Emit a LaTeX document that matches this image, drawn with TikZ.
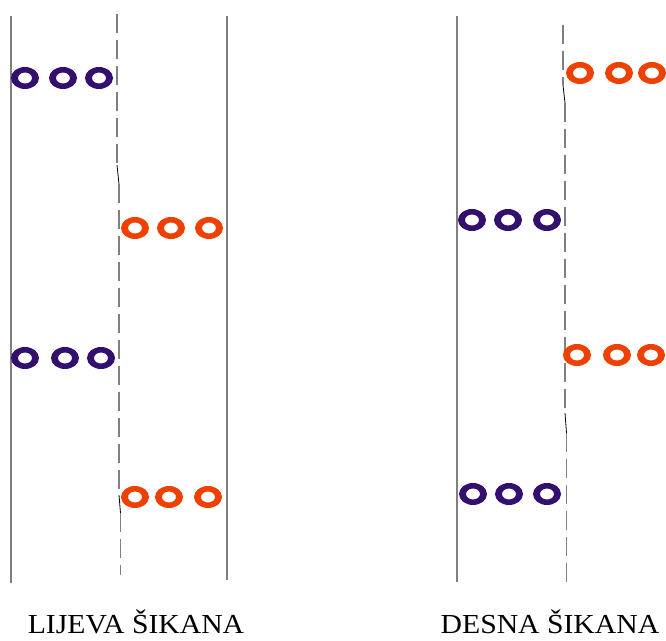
\documentclass[tikz,border=0pt]{standalone}
\usepackage{fontspec}
\setmainfont{Liberation Serif}
\newfontfamily\captionfont[FakeStretch=1.08]{Liberation Serif}
\definecolor{Purple}{RGB}{51,16,110}
\definecolor{Orange}{RGB}{238,64,0}
\definecolor{LineGray}{RGB}{128,128,128}
\tikzset{
	edgeline/.style={LineGray, line width=1.5pt},
	midline/.style={LineGray, line width=1.5pt, dash pattern=on 19pt off 7pt},
	kink/.style={black, line width=0.8pt},
	ring/.style={even odd rule},
	caption/.style={inner sep=0pt, anchor=base, text depth=0pt, font=\captionfont\fontsize{27.5}{30}\selectfont},
}
\newcommand{\ringat}[3]{\fill[ring,#1] (#2,#3) ellipse (14pt and 11pt) (#2,#3) ellipse (7pt and 5.5pt);}
\begin{document}
\begin{tikzpicture}[x=1pt,y=-1pt]
\useasboundingbox (0,0) rectangle (666,640);

	% left chicane
	\draw[edgeline] (11,16)--(11,583);
	\draw[edgeline] (227,16)--(227,580);

	\draw[midline] (117,14)--(117,165);
	\draw[kink] (117,165)--(119,184);
	\draw[midline] (119,184)--(119,495);
	\draw[kink] (119,495)--(120.5,513);
	\draw[midline] (120.5,513)--(120.5,575);

	\foreach \x in {25,63,99} \ringat{Purple}{\x}{78};   % first left
	\foreach \x in {135,171,209} \ringat{Orange}{\x}{228}; % first right
	\foreach \x in {25,65,101} \ringat{Purple}{\x}{358};  % second left
	\foreach \x in {135,169,208} \ringat{Orange}{\x}{497}; % second right

\node[caption] (lijeva) at (136,633) {LIJEVA ŠIKANA};

	% right chicane
	\draw[edgeline] (457,16)--(457,582);

	\draw[midline] (563,25)--(563,85);
	\draw[kink] (563,85)--(565,103);
	\draw[midline] (565,103)--(565,413);
	\draw[kink] (565,413)--(566.5,433);
	\draw[midline] (566.5,433)--(566.5,583);

	\foreach \x in {580,619,652} \ringat{Orange}{\x}{73};  % first right
	\foreach \x in {472,508,547} \ringat{Purple}{\x}{220}; % first left
	\foreach \x in {577,617,651} \ringat{Orange}{\x}{355}; % second right
	\foreach \x in {473,509,547} \ringat{Purple}{\x}{494}; % second left

\node[caption] (desna) at (550,633) {DESNA ŠIKANA};
\end{tikzpicture}
\end{document}
